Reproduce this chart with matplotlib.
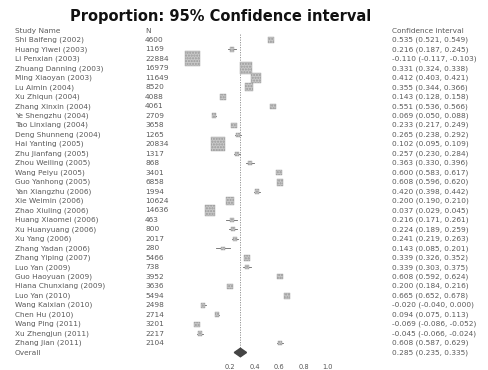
import matplotlib
matplotlib.use("Agg")
import matplotlib.pyplot as plt
import numpy as np

studies = ["Shi Baifeng (2002)", "Huang Yiwei (2003)", "Li Penxian (2003)", "Zhuang Danning (2003)",
           "Ming Xiaoyan (2003)", "Lu Aimin (2004)", "Xu Zhiqun (2004)", "Zhang Xinxin (2004)",
           "Ye Shengzhu (2004)", "Tao Linxiang (2004)", "Deng Shunneng (2004)", "Hai Yanting (2005)",
           "Zhu Jianfang (2005)", "Zhou Weiling (2005)", "Wang Peiyu (2005)", "Guo Yanhong (2005)",
           "Yan Xiangzhu (2006)", "Xie Weimin (2006)", "Zhao Xiuling (2006)", "Huang Xiaomei (2006)",
           "Xu Huanyuang (2006)", "Xu Yang (2006)", "Zhang Yadan (2006)", "Zhang Yiping (2007)",
           "Luo Yan (2009)", "Guo Haoyuan (2009)", "Hiana Chunxiang (2009)", "Luo Yan (2010)",
           "Wang Kaixian (2010)", "Chen Hu (2010)", "Wang Ping (2011)", "Xu Zhengjun (2011)",
           "Zhang Jian (2011)"]
n_vals = [4600, 1169, 22884, 16979, 11649, 8520, 4088, 4061, 2709, 3658, 1265, 20834, 1317, 868, 3401,
          6858, 1994, 10624, 14636, 463, 800, 2017, 280, 5466, 738, 3952, 3636, 5494, 2498, 2714, 3201,
          2217, 2104]
props = [0.535, 0.216, -0.110, 0.331, 0.412, 0.355, 0.143, 0.551, 0.069, 0.233, 0.265, 0.102, 0.257,
         0.363, 0.600, 0.608, 0.420, 0.200, 0.037, 0.216, 0.224, 0.241, 0.143, 0.339, 0.339, 0.608,
         0.200, 0.665, -0.020, 0.094, -0.069, -0.045, 0.608]
lows = [0.521, 0.187, -0.117, 0.324, 0.403, 0.344, 0.128, 0.536, 0.050, 0.217, 0.238, 0.095, 0.230,
        0.330, 0.583, 0.596, 0.398, 0.190, 0.029, 0.171, 0.189, 0.219, 0.085, 0.326, 0.303, 0.592,
        0.184, 0.652, -0.040, 0.075, -0.086, -0.066, 0.587]
highs = [0.549, 0.245, -0.103, 0.338, 0.421, 0.366, 0.158, 0.566, 0.088, 0.249, 0.292, 0.109, 0.284,
         0.396, 0.617, 0.620, 0.442, 0.210, 0.045, 0.261, 0.259, 0.263, 0.201, 0.352, 0.375, 0.624,
         0.216, 0.678, 0.000, 0.113, -0.052, -0.024, 0.629]
overall = (0.285, 0.235, 0.335)
ticks = [0.2, 0.4, 0.6, 0.8, 1.0]

W, H = 488, 370
fig = plt.figure(figsize=(W / 100, H / 100), dpi=100)
fig.patch.set_facecolor("white")

# forest axes: pixel box x 180..345, y 25..362 (0.2 -> 230 px, 122.5 px per unit)
px0, px1, py0, py1 = 180, 345, 25, 362
ax = fig.add_axes([px0 / W, 1 - py1 / H, (px1 - px0) / W, (py1 - py0) / H])
row0, step = 40.0, 9.47
ax.set_ylim((py1 - row0) / step, (py0 - row0) / step)
ax.set_xlim(0.2 - (230 - px0) / 122.5, 1.0 + (px1 - 328) / 122.5)
ax.patch.set_alpha(0)
for s in ax.spines.values():
    s.set_visible(False)
ax.set_yticks([])
ax.set_xticks(ticks)
ax.set_xticklabels([f"{t:.1f}" for t in ticks], fontsize=4.8, color="#555555")
ax.tick_params(axis="x", length=0, pad=1.5)
ax.plot([-0.07, 1.1], [(py1 - row0) / step - 0.05] * 2, color="#999999", lw=0.7, ls=(0, (1, 1.5)))

nrow = len(props)
w = np.array(n_vals, dtype=float)
side_px = 3.5 + 11.5 * (w / w.max())
sizes = (side_px * 0.72) ** 2
for i in range(nrow):
    ax.plot([lows[i], highs[i]], [i, i], color="#666666", lw=0.6)
    ax.scatter(props[i], i, marker="s", s=sizes[i], facecolor="#c8c8c8", edgecolor="#9a9a9a",
               hatch="......", lw=0.3, zorder=3, clip_on=False)
ax.plot([overall[0], overall[0]], [-0.6, nrow - 0.5], color="#888888", lw=0.6, ls=(0, (1.5, 1.5)))
yo = nrow
ax.fill([overall[1], overall[0], overall[2], overall[0]], [yo, yo - 0.45, yo, yo + 0.45],
        color="#444444", zorder=3)

tf = dict(fontsize=5.3, color="#5a5a5a", va="center", ha="left")
def row_y(r):
    return 1 - (row0 + step * r) / H
xs_name, xs_n, xs_ci = 15 / W, 145 / W, 392 / W
fig.text(xs_name, row_y(-1), "Study Name", **tf)
fig.text(xs_n, row_y(-1), "N", **tf)
fig.text(xs_ci, row_y(-1), "Confidence interval", **tf)
for i in range(nrow):
    fig.text(xs_name, row_y(i), studies[i], **tf)
    fig.text(xs_n, row_y(i), str(n_vals[i]), **tf)
    fig.text(xs_ci, row_y(i), f"{props[i]:.3f} ({lows[i]:.3f}, {highs[i]:.3f})", **tf)
fig.text(xs_name, row_y(nrow), "Overall", **tf)
fig.text(xs_ci, row_y(nrow), f"{overall[0]:.3f} ({overall[1]:.3f}, {overall[2]:.3f})", **tf)

fig.text(221 / W, 1 - 16 / H, "Proportion: 95% Confidence interval", ha="center", va="center",
         fontsize=10.5, fontweight="heavy", color="#111111")
fig.savefig("out.png", dpi=100)
